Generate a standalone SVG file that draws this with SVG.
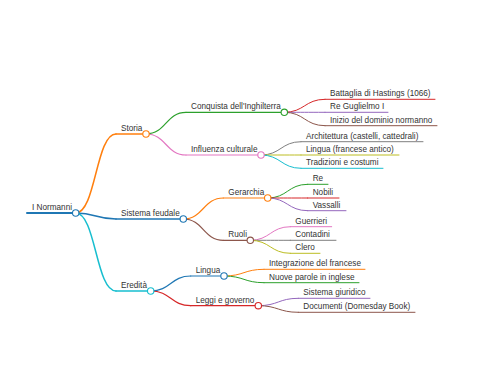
<svg xmlns="http://www.w3.org/2000/svg" width="480" height="384" viewBox="0 0 480 384">
<style>
text{font-family:"Liberation Sans",Arial,sans-serif;font-size:8.2px;fill:#333}
path{fill:none;stroke-linecap:round}
.l1{stroke-width:1.5}
.l2{stroke-width:1.2}
.l3{stroke-width:1}
circle{fill:#fff;stroke-width:1.1}
</style>
<rect width="480" height="384" fill="#fff"/>
<g id="connectors">
<path class="l1" stroke="#ff7f0e" d="M75.7,213 C95.85,213 95.85,134 116,134"/>
<path class="l1" stroke="#1f77b4" d="M75.7,213 C95.85,213 95.85,219 116,219"/>
<path class="l1" stroke="#17becf" d="M75.7,213 C95.85,213 95.85,291 116,291"/>
<path class="l2" stroke="#2ca02c" d="M146,134 C166,134 166,112.3 186,112.3"/>
<path class="l2" stroke="#e377c2" d="M146,134 C166,134 166,155 186,155"/>
<path class="l3" stroke="#d62728" d="M284.3,112.3 C304.65,112.3 304.65,99.3 325,99.3"/>
<path class="l3" stroke="#9467bd" d="M284.3,112.3 C304.65,112.3 304.65,112.3 325,112.3"/>
<path class="l3" stroke="#8c564b" d="M284.3,112.3 C304.65,112.3 304.65,125.7 325,125.7"/>
<path class="l3" stroke="#7f7f7f" d="M261,155 C281,155 281,141.7 301,141.7"/>
<path class="l3" stroke="#bcbd22" d="M261,155 C281,155 281,155 301,155"/>
<path class="l3" stroke="#17becf" d="M261,155 C281,155 281,168.3 301,168.3"/>
<path class="l2" stroke="#ff7f0e" d="M183.3,219 C203.3,219 203.3,198 223.3,198"/>
<path class="l2" stroke="#8c564b" d="M183.3,219 C203.3,219 203.3,240.3 223.3,240.3"/>
<path class="l3" stroke="#2ca02c" d="M267.7,198 C287.7,198 287.7,184.3 307.7,184.3"/>
<path class="l3" stroke="#d62728" d="M267.7,198 C287.7,198 287.7,198 307.7,198"/>
<path class="l3" stroke="#9467bd" d="M267.7,198 C287.7,198 287.7,210.7 307.7,210.7"/>
<path class="l3" stroke="#e377c2" d="M250.3,240.3 C270.3,240.3 270.3,226.7 290.3,226.7"/>
<path class="l3" stroke="#7f7f7f" d="M250.3,240.3 C270.3,240.3 270.3,240.3 290.3,240.3"/>
<path class="l3" stroke="#bcbd22" d="M250.3,240.3 C270.3,240.3 270.3,253.3 290.3,253.3"/>
<path class="l2" stroke="#1f77b4" d="M150.7,291 C170.7,291 170.7,276 190.7,276"/>
<path class="l2" stroke="#d62728" d="M150.7,291 C170.7,291 170.7,305.7 190.7,305.7"/>
<path class="l3" stroke="#ff7f0e" d="M224,276 C244,276 244,269.3 264,269.3"/>
<path class="l3" stroke="#2ca02c" d="M224,276 C244,276 244,282.7 264,282.7"/>
<path class="l3" stroke="#9467bd" d="M258.3,305.7 C278.3,305.7 278.3,298.3 298.3,298.3"/>
<path class="l3" stroke="#8c564b" d="M258.3,305.7 C278.3,305.7 278.3,312.3 298.3,312.3"/>
</g>
<g id="n-root"><path stroke="#1f77b4" stroke-width="2" d="M27,213 H75.7"/><circle cx="75.7" cy="213" r="3.2" stroke="#1f77b4"/><text x="32" y="209.8">I Normanni</text></g>
<g id="n-storia"><path class="l1" stroke="#ff7f0e" d="M116,134 H146"/><circle cx="146" cy="134" r="3.2" stroke="#ff7f0e"/><text x="121" y="130.8">Storia</text></g>
<g id="n-sistema"><path class="l1" stroke="#1f77b4" d="M116,219 H183.3"/><circle cx="183.3" cy="219" r="3.2" stroke="#1f77b4"/><text x="121" y="215.8">Sistema feudale</text></g>
<g id="n-eredita"><path class="l1" stroke="#17becf" d="M116,291 H150.7"/><circle cx="150.7" cy="291" r="3.2" stroke="#17becf"/><text x="121" y="287.8">Eredità</text></g>
<g id="n-conquista"><path class="l2" stroke="#2ca02c" d="M186,112.3 H284.3"/><circle cx="284.3" cy="112.3" r="3.2" stroke="#2ca02c"/><text x="191" y="109.1">Conquista dell'Inghilterra</text></g>
<g id="n-influenza"><path class="l2" stroke="#e377c2" d="M186,155 H261"/><circle cx="261" cy="155" r="3.2" stroke="#e377c2"/><text x="191" y="151.8">Influenza culturale</text></g>
<g id="n-gerarchia"><path class="l2" stroke="#ff7f0e" d="M223.3,198 H267.7"/><circle cx="267.7" cy="198" r="3.2" stroke="#ff7f0e"/><text x="228.3" y="194.8">Gerarchia</text></g>
<g id="n-ruoli"><path class="l2" stroke="#8c564b" d="M223.3,240.3 H250.3"/><circle cx="250.3" cy="240.3" r="3.2" stroke="#8c564b"/><text x="228.3" y="237.1">Ruoli</text></g>
<g id="n-lingua2"><path class="l2" stroke="#1f77b4" d="M190.7,276 H224"/><circle cx="224" cy="276" r="3.2" stroke="#1f77b4"/><text x="195.7" y="272.8">Lingua</text></g>
<g id="n-leggi"><path class="l2" stroke="#d62728" d="M190.7,305.7 H258.3"/><circle cx="258.3" cy="305.7" r="3.2" stroke="#d62728"/><text x="195.7" y="302.5">Leggi e governo</text></g>
<g id="n-battaglia"><path class="l3" stroke="#d62728" d="M325,99.3 H435"/><text x="330" y="96.1">Battaglia di Hastings (1066)</text></g>
<g id="n-guglielmo"><path class="l3" stroke="#9467bd" d="M325,112.3 H388"/><text x="330" y="109.1">Re Guglielmo I</text></g>
<g id="n-inizio"><path class="l3" stroke="#8c564b" d="M325,125.7 H437"/><text x="330" y="122.5">Inizio del dominio normanno</text></g>
<g id="n-architettura"><path class="l3" stroke="#7f7f7f" d="M301,141.7 H423"/><text x="306" y="138.5">Architettura (castelli, cattedrali)</text></g>
<g id="n-lingua1"><path class="l3" stroke="#bcbd22" d="M301,155 H399"/><text x="306" y="151.8">Lingua (francese antico)</text></g>
<g id="n-tradizioni"><path class="l3" stroke="#17becf" d="M301,168.3 H383"/><text x="306" y="165.1">Tradizioni e costumi</text></g>
<g id="n-re"><path class="l3" stroke="#2ca02c" d="M307.7,184.3 H328"/><text x="312.7" y="181.1">Re</text></g>
<g id="n-nobili"><path class="l3" stroke="#d62728" d="M307.7,198 H339"/><text x="312.7" y="194.8">Nobili</text></g>
<g id="n-vassalli"><path class="l3" stroke="#9467bd" d="M307.7,210.7 H346"/><text x="312.7" y="207.5">Vassalli</text></g>
<g id="n-guerrieri"><path class="l3" stroke="#e377c2" d="M290.3,226.7 H331.7"/><text x="295.3" y="223.5">Guerrieri</text></g>
<g id="n-contadini"><path class="l3" stroke="#7f7f7f" d="M290.3,240.3 H336"/><text x="295.3" y="237.1">Contadini</text></g>
<g id="n-clero"><path class="l3" stroke="#bcbd22" d="M290.3,253.3 H320"/><text x="295.3" y="250.1">Clero</text></g>
<g id="n-integrazione"><path class="l3" stroke="#ff7f0e" d="M264,269.3 H365"/><text x="269" y="266.1">Integrazione del francese</text></g>
<g id="n-nuove"><path class="l3" stroke="#2ca02c" d="M264,282.7 H359"/><text x="269" y="279.5">Nuove parole in inglese</text></g>
<g id="n-giuridico"><path class="l3" stroke="#9467bd" d="M298.3,298.3 H370"/><text x="303.3" y="295.1">Sistema giuridico</text></g>
<g id="n-documenti"><path class="l3" stroke="#8c564b" d="M298.3,312.3 H415"/><text x="303.3" y="309.1">Documenti (Domesday Book)</text></g>
</svg>
